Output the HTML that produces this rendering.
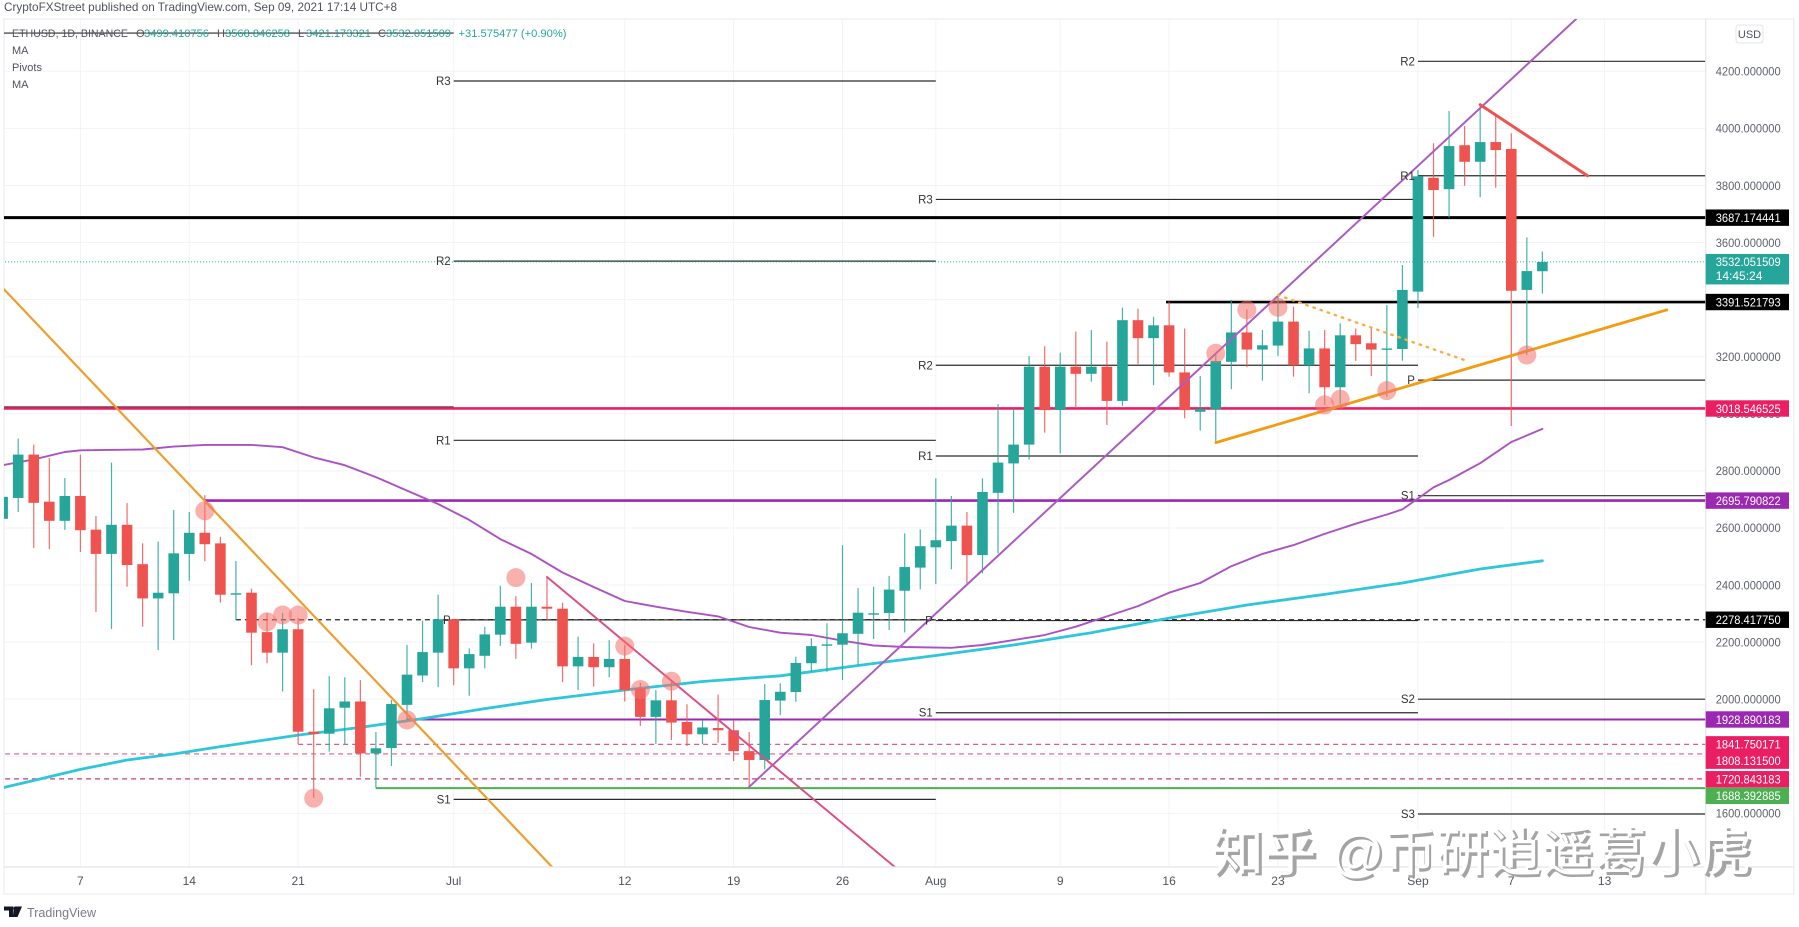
<!DOCTYPE html>
<html lang="en">
<head>
<meta charset="utf-8">
<title>ETHUSD daily chart</title>
<style>
html,body{margin:0;padding:0;background:#fff;width:1799px;height:927px;overflow:hidden}
svg{display:block;font-family:"Liberation Sans","Noto Sans CJK SC",sans-serif}
</style>
</head>
<body>
<svg id="chart" xmlns="http://www.w3.org/2000/svg" width="1799" height="927" viewBox="0 0 1799 927">
  <defs><clipPath id="plot-clip"><rect x="4" y="19" width="1701.7" height="848"/></clipPath></defs>
  <rect x="4" y="19" width="1790" height="875" fill="#fff" stroke="#eef0f3" stroke-width="1.5"/>
  <g id="grid"></g>
  <g id="plot" clip-path="url(#plot-clip)">
    <g id="levels"></g>
    <g id="averages"></g>
    <g id="candles"></g>
    <g id="drawings"></g>
    <g id="markers"></g>
  </g>
  <g id="pivot-labels"></g>
  <line x1="4" y1="867" x2="1794" y2="867" stroke="#e3e5ea" stroke-width="1.2"/>
  <line x1="1705.7" y1="19" x2="1705.7" y2="894" stroke="#e3e5ea" stroke-width="1.2"/>
  <g id="x-ticks" font-size="12" fill="#50535e" text-anchor="middle"></g>
  <g id="y-ticks" font-size="12" fill="#5f626d"></g>
  <g id="tags" font-size="12" fill="#fff"></g>

  <text x="4" y="11" font-size="12" fill="#50535e" textLength="393" lengthAdjust="spacingAndGlyphs">CryptoFXStreet published on TradingView.com, Sep 09, 2021 17:14 UTC+8</text>
  <g font-size="11" fill="#50535e">
    <text x="12" y="37" textLength="116" lengthAdjust="spacingAndGlyphs">ETHUSD, 1D, BINANCE</text>
    <text x="136" y="37">O</text>
    <text x="144" y="37" fill="#26a69a" textLength="65" lengthAdjust="spacingAndGlyphs">3499.410756</text>
    <text x="217" y="37">H</text>
    <text x="225" y="37" fill="#26a69a" textLength="65" lengthAdjust="spacingAndGlyphs">3568.846258</text>
    <text x="298" y="37">L</text>
    <text x="306" y="37" fill="#26a69a" textLength="65" lengthAdjust="spacingAndGlyphs">3421.173321</text>
    <text x="378" y="37">C</text>
    <text x="386" y="37" fill="#26a69a" textLength="65" lengthAdjust="spacingAndGlyphs">3532.051509</text>
    <text x="458.5" y="37" fill="#26a69a" textLength="108" lengthAdjust="spacingAndGlyphs">+31.575477 (+0.90%)</text>
    <text x="12" y="54">MA</text>
    <text x="12" y="71">Pivots</text>
    <text x="12" y="88">MA</text>
  </g>
  <g>
    <rect x="1736" y="25" width="27" height="18" rx="3" fill="#fff" stroke="#e3e5ea"/>
    <text x="1749.5" y="38" font-size="11" fill="#50535e" text-anchor="middle">USD</text>
  </g>
  <g>
    <path d="M4 906.5h9.5v10.5h-4.5v-6.5h-5zM14.5 906.5h7.5l-4.5 10.5h-4.2z" fill="#131722"/>
    <circle cx="15.5" cy="908.5" r="1.9" fill="#131722"/>
    <text x="27" y="917" font-size="13" fill="#787b86" textLength="69" lengthAdjust="spacingAndGlyphs">TradingView</text>
  </g>
  <g font-size="52" textLength="540">
    <text x="1214" y="873" font-size="52" font-weight="700" fill="#a4a4a4" textLength="540" lengthAdjust="spacing">知乎 @币研逍遥葛小虎</text>
    <text x="1211.5" y="871" font-size="52" font-weight="400" fill="#ffffff" textLength="540" lengthAdjust="spacing">知乎 @币研逍遥葛小虎</text>
  </g>
</svg>
<script>
// ---- data ----
const firstDay = -5;
const candleOpen = [
  2632,2705,2857,2692,2625,2712,2594,2509,2611,2473,
  2353,2371,2509,2583,2546,2366,2373,2235,2163,2245,
  1886,1879,1970,1992,1810,1829,1980,2083,2163,2280,
  2108,2152,2226,2324,2198,2324,2317,2115,2148,2112,
  2141,2038,1938,1996,1920,1877,1899,1891,1818,1787,
  1995,2025,2126,2189,2191,2229,2297,2302,2380,2461,
  2532,2554,2608,2505,2723,2826,2892,3165,3013,3165,
  3140,3165,3045,3328,3265,3310,3145,3007,3016,3182,
  3285,3225,3239,3323,3170,3229,3093,3275,3247,3225,
  3227,3428,3827,3787,3941,3883,3952,3928,3434,3499.41
];
const candleHigh = [
  2709,2913,2892,2845,2775,2857,2642,2829,2687,2546,
  2552,2663,2656,2715,2569,2484,2387,2302,2302,2284,
  2035,2081,2077,2067,1885,1997,2190,2275,2366,2281,
  2178,2254,2397,2361,2407,2428,2338,2219,2196,2207,
  2190,2057,2032,2067,1982,1927,2016,1925,1885,2053,
  2056,2149,2213,2266,2540,2389,2394,2432,2581,2595,
  2774,2712,2656,2774,3034,3019,3202,3237,3214,3288,
  3294,3253,3372,3368,3340,3393,3299,3132,3213,3399,
  3366,3294,3416,3375,3291,3294,3317,3299,3305,3381,
  3521,3854,3948,4061,4008,4088,4043,3983,3618,3568.85
];
const candleLow = [
  2632,2656,2530,2526,2593,2516,2305,2246,2394,2254,
  2172,2207,2415,2483,2338,2277,2119,2126,2027,1843,
  1654,1816,1843,1728,1688,1766,1927,2060,2042,2049,
  2012,2108,2187,2141,2177,2277,2060,2032,2044,2077,
  1992,1906,1843,1857,1836,1843,1847,1783,1693,1754,
  1944,1991,2096,2096,2067,2120,2211,2242,2234,2385,
  2403,2455,2406,2441,2511,2653,2840,2934,2861,3019,
  3112,2961,3027,3174,3100,3130,2984,2941,2900,3086,
  3163,3116,3202,3130,3072,3031,3034,3185,3132,3060,
  3186,3370,3620,3687,3799,3759,3792,2957,3206,3421.17
];
const candleClose = [
  2709,2857,2688,2625,2712,2592,2509,2611,2470,2353,
  2373,2511,2583,2543,2366,2371,2233,2163,2245,1886,
  1878,1968,1992,1810,1828,1983,2086,2165,2280,2108,
  2158,2227,2324,2194,2324,2317,2115,2148,2112,2141,
  2032,1938,1996,1918,1877,1901,1891,1818,1787,1997,
  2026,2127,2186,2192,2231,2303,2301,2384,2463,2536,
  2557,2608,2505,2726,2829,2892,3165,3013,3165,3140,
  3165,3045,3328,3265,3310,3145,3013,3017,3185,3285,
  3225,3240,3323,3170,3229,3093,3275,3244,3225,3229,
  3434,3832,3784,3938,3883,3952,3924,3431,3500,3532.05
];
const fastMaDays = [-5,-3,-1,0,4,6,8,11,13,15,17,19,21,23,25,27,29,31,33,35,37,39,41,43,45,47,49,51,53,56,58,60,62,64,66,68,70,72,74,76,78,80,82,84,85,86,87,88,90,92,94];
const fastMaValues = [2820,2840,2866,2872,2875,2885,2891,2891,2883,2847,2820,2778,2731,2684,2628,2561,2509,2444,2393,2344,2324,2306,2290,2253,2233,2225,2205,2188,2183,2180,2190,2207,2225,2254,2290,2326,2373,2407,2466,2509,2540,2579,2615,2647,2665,2703,2742,2768,2827,2901,2947];
const slowMaDays = [-5,-3,0,3,6,9,14,18,22,26,30,35,40,45,50,55,60,65,70,75,80,85,90,94];
const slowMaValues = [1690,1715,1754,1787,1808,1834,1874,1901,1932,1967,1999,2032,2062,2082,2118,2153,2190,2233,2284,2330,2367,2407,2456,2485];
const markerDays = [8,28,12,13,14,15,21,35,36,38,73,75,77,80,81,84,93];
const markerPrices = [2660,2426,2271,2295,2295,1653,1927,2186,2034,2063,3212,3364,3373,3031,3051,3081,3206];
const priceTicks = [1600,1800,2000,2200,2400,2600,2800,3000,3200,3400,3600,3800,4000,4200];
const timeTickDays = [0,7,14,24,35,42,49,55,63,70,77,86,92,98];
const timeTickLabels = ["7","14","21","Jul","12","19","26","Aug","9","16","23","Sep","7","13"];
const pivotSegmentStart = [-6,24,55,86];
const pivotSegmentEnd = [24,55,86,110];
const pivotLabelsOld = ["",""];
const pivotPricesOld = [4334,3024];
const pivotLabelsJul = ["R3","R2","R1","P","S1"];
const pivotPricesJul = [4166,3535,2907,2278,1649];
const pivotLabelsAug = ["R3","R2","R1","P","S1"];
const pivotPricesAug = [3751,3170,2852,2275.5,1952.5];
const pivotLabelsSep = ["R2","R1","P","S1","S2","S3"];
const pivotPricesSep = [4235,3834,3118,2713,2000,1597.6];
const resistanceHigh = 3687.174441;
const resistanceMid = 3391.521793;
const pinkSupport = 3018.546525;
const purpleUpper = 2695.790822;
const pivotDashed = 2278.41775;
const purpleLower = 1928.890183;
const pinkDashedA = 1841.750171;
const pinkDashedB = 1808.1315;
const pinkDashedC = 1720.843183;
const greenSupport = 1688.392885;
const lastPrice = 3532.051509;
const countdown = "14:45:24";
const orangeDownDays = [-4.91,30.33];
const orangeDownPrices = [3436,1412];
const purpleRiseDays = [43,96.16];
const purpleRisePrices = [1693,4383];
const pinkDownDays = [30,52.36];
const pinkDownPrices = [2428,1412];
const orangeUpDays = [73,102];
const orangeUpPrices = [2899,3364];
const orangeDotDays = [77,89];
const orangeDotPrices = [3416,3188];
const redDownDays = [90,96.9];
const redDownPrices = [4083,3834];

// ---- axes ----
function xOf(day){ return 80.4 + 15.553 * day; }
function yOf(price){ return 71.3 + (4200 - price) * 0.2854; }
const NS = "http://www.w3.org/2000/svg";
function make(parentId, tag, attrs, text){
  const el = document.createElementNS(NS, tag);
  for (const k in attrs) el.setAttribute(k, attrs[k]);
  if (text !== undefined) el.textContent = text;
  document.getElementById(parentId).appendChild(el);
  return el;
}
const UP = "#26a69a", DOWN = "#ef5350";

// grid and tick labels
priceTicks.forEach(function(p){
  const g = make("grid","line",{x1:4,x2:1705.7,y1:yOf(p),y2:yOf(p),stroke:"#f1f3f6","stroke-width":1});
  
  
  const t = make("y-ticks","text",{x:1715.7,y:yOf(p)+4.3,textLength:65,lengthAdjust:"spacingAndGlyphs"},p.toFixed(6));
  
  
});
timeTickDays.forEach(function(d,i){
  const g = make("grid","line",{x1:xOf(d),x2:xOf(d),y1:19,y2:867,stroke:"#f1f3f6","stroke-width":1});
  
  
  const t = make("x-ticks","text",{x:xOf(d),y:885},timeTickLabels[i]);
  
  
});

// horizontal levels
function level(name, price, fromDay, toDay, color, width, dash){
  const a = {x1:xOf(fromDay),x2:xOf(toDay),y1:yOf(price),y2:yOf(price),stroke:color,"stroke-width":width};
  if (dash) a["stroke-dasharray"] = dash;
  const el = make("levels","line",a);
  
  
}
function pivotSet(labels, prices, seg){
  prices.forEach(function(p,i){
    level("pivot-line", p, pivotSegmentStart[seg], pivotSegmentEnd[seg], "#2b2b2b", 1.2);
    if (labels[i]) {
      const t = make("pivot-labels","text",{x:xOf(pivotSegmentStart[seg])-3,y:yOf(p)+4,"font-size":11.5,fill:"#333","text-anchor":"end"},labels[i]);
      
      
    }
  });
}
pivotSet(pivotLabelsOld,pivotPricesOld,0);
pivotSet(pivotLabelsJul,pivotPricesJul,1);
pivotSet(pivotLabelsAug,pivotPricesAug,2);
pivotSet(pivotLabelsSep,pivotPricesSep,3);
level("last-price-line", lastPrice, -6, 110, "#26a69a", 1, "1 2");
level("resistance-3687", resistanceHigh, -6, 110, "#000", 3);
level("resistance-3391", resistanceMid, 69.8, 110, "#000", 2.6);
level("support-3018", pinkSupport, -6, 110, "#e91e63", 2.6);
level("resistance-2695", purpleUpper, 8, 110, "#9c27b0", 2.6);
level("pivot-dashed-2278", pivotDashed, 10, 110, "#222", 1.2, "5 4");
level("support-1928", purpleLower, 21, 110, "#9c27b0", 2);
level("dashed-1841", pinkDashedA, 14, 110, "#d6608c", 1.2, "5 4");
level("dashed-1808", pinkDashedB, -6, 110, "#d6608c", 1.2, "5 4");
level("dashed-1720", pinkDashedC, -6, 110, "#c2406f", 1.2, "5 4");
level("support-1688", greenSupport, 19, 110, "#4caf50", 2);

// moving averages
function polyline(parentId, days, prices, color, width, dash){
  const pts = days.map(function(d,i){ return xOf(d).toFixed(1)+","+yOf(prices[i]).toFixed(1); }).join(" ");
  const a = {points:pts,fill:"none",stroke:color,"stroke-width":width,"stroke-linejoin":"round","stroke-linecap":"round"};
  if (dash) a["stroke-dasharray"] = dash;
  return make(parentId,"polyline",a);
}
const fastMa = polyline("averages",fastMaDays,fastMaValues,"#ab52c2",1.9);


const slowMa = polyline("averages",slowMaDays,slowMaValues,"#2ec6d8",2.8);



// candles
candleOpen.forEach(function(o,i){
  const c = candleClose[i], d = firstDay + i, col = c >= o ? UP : DOWN, x = xOf(d);
  const wick = make("candles","line",{x1:x,x2:x,y1:yOf(candleHigh[i]),y2:yOf(candleLow[i]),stroke:col,"stroke-width":1.2,"stroke-opacity":0.85});
  
  
  const top = yOf(Math.max(o,c)), bot = yOf(Math.min(o,c));
  const body = make("candles","rect",{x:x-5.3,y:top,width:10.6,height:Math.max(bot-top,1.4),fill:col});
  
  
});

// trend lines
const l1 = polyline("drawings",orangeDownDays,orangeDownPrices,"#ec9f2e",2.2);


const l2 = polyline("drawings",purpleRiseDays,purpleRisePrices,"#ab5cc0",2);


const l3 = polyline("drawings",pinkDownDays,pinkDownPrices,"#dc4f84",2);


const l4 = polyline("drawings",orangeUpDays,orangeUpPrices,"#f39c12",2.8);


const l5 = polyline("drawings",orangeDotDays,orangeDotPrices,"#f5b041",2.4,"1.5 6");


const l6 = polyline("drawings",redDownDays,redDownPrices,"#ef5350",3);



// touch markers
markerDays.forEach(function(d,i){
  const m = make("markers","circle",{cx:xOf(d),cy:yOf(markerPrices[i]),r:9.5,fill:"#f4716c","fill-opacity":0.55});
  
  
});

// price tags
function tag(price, color, offset){
  const y = yOf(price) + offset;
  const box = make("tags","rect",{x:1705.7,y:y-8.2,width:83.3,height:16.4,fill:color});
  
  
  const t = make("tags","text",{x:1715.7,y:y+4.3,textLength:65,lengthAdjust:"spacingAndGlyphs"},price.toFixed(6));
  
  
}
tag(resistanceHigh,"#000",0);
tag(resistanceMid,"#000",0);
tag(pinkSupport,"#e91e63",0);
tag(purpleUpper,"#9c27b0",0);
tag(pivotDashed,"#000",0);
tag(purpleLower,"#9c27b0",0);
tag(pinkDashedA,"#e91e63",0);
tag(pinkDashedB,"#e91e63",6.7);
tag(pinkDashedC,"#e91e63",0.4);
tag(greenSupport,"#4caf50",7.7);
const lastBox = make("tags","rect",{x:1705.7,y:yOf(lastPrice)-8,width:83.3,height:30.5,fill:"#26a69a"});


const lastText = make("tags","text",{x:1715.7,y:yOf(lastPrice)+4,textLength:65,lengthAdjust:"spacingAndGlyphs"},lastPrice.toFixed(6));


const countText = make("tags","text",{x:1715.7,y:yOf(lastPrice)+18},countdown);


</script>
</body>
</html>
